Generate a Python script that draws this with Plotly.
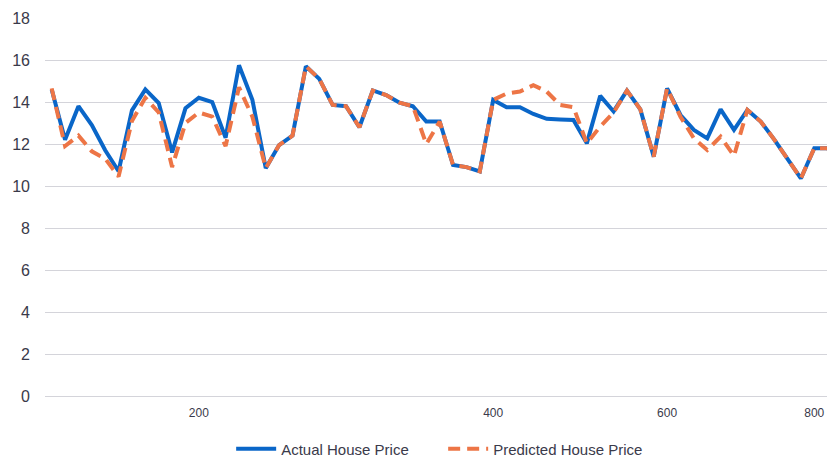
import plotly.graph_objects as go

# category index (house sample order)
categories = list(range(60))

actual_price = [14.6, 12.2, 13.8, 12.9, 11.7, 10.7, 13.6, 14.6, 13.95, 11.6,
                13.7, 14.2, 14.0, 12.3, 15.75, 14.1, 10.85, 11.95, 12.4, 15.7,
                15.1, 13.86, 13.8, 12.8, 14.55, 14.33, 13.97, 13.8, 13.07, 13.07,
                11.0, 10.9, 10.7, 14.1, 13.75, 13.75, 13.43, 13.2, 13.17, 13.14,
                12.03, 14.29, 13.55, 14.54, 13.65, 11.4, 14.65, 13.38, 12.67, 12.27,
                13.65, 12.67, 13.62, 13.07, 12.22, 11.3, 10.36, 11.8, 11.8, 10.9]

predicted_price = [14.65, 11.9, 12.4, 11.65, 11.3, 10.45, 13.1, 14.2, 13.5, 10.9,
                   13.0, 13.5, 13.3, 11.9, 14.7, 13.3, 10.85, 11.95, 12.4, 15.7,
                   15.1, 13.86, 13.8, 12.8, 14.55, 14.33, 13.97, 13.8, 12.0, 13.07,
                   11.0, 10.9, 10.7, 14.1, 14.4, 14.5, 14.8, 14.5, 13.86, 13.75,
                   12.03, 12.83, 13.5, 14.54, 13.65, 11.4, 14.65, 13.3, 12.27, 11.71,
                   12.35, 11.43, 13.62, 13.07, 12.22, 11.3, 10.36, 11.8, 11.8, 10.9]

tick_positions = [11, 33, 46, 57]
tick_labels = ["200", "400", "600", "800"]
y_ticks = list(range(0, 19, 2))

FONT = "Liberation Sans"
TXT = "#3a3a4a"

fig = go.Figure()
fig.add_trace(go.Scatter(
    x=categories, y=actual_price, mode="lines", name="Actual House Price",
    line=dict(color="#0a66c8", width=4),
))
fig.add_trace(go.Scatter(
    x=categories, y=predicted_price, mode="lines", name="Predicted House Price",
    line=dict(color="#ed7546", width=4, dash="12px,7px"),
))

# page body has an 8px margin, so the figure is shrunk and margins reduced
fig.update_layout(
    width=827, height=450,
    margin=dict(l=37, r=0, t=10, b=62),
    paper_bgcolor="white", plot_bgcolor="white",
    font=dict(family=FONT, color=TXT),
    showlegend=True,
    legend=dict(orientation="h", xref="paper", yref="container",
                x=0.504, xanchor="center", y=0.02, yanchor="middle",
                font=dict(size=15, color=TXT, family=FONT),
                itemwidth=40, entrywidth=157, tracegroupgap=0),
    xaxis=dict(range=[-0.5, 58.55], tickmode="array", tickvals=tick_positions,
               ticktext=tick_labels, showgrid=False, zeroline=False,
               showline=False, ticks="", ticklabelstandoff=8,
               tickfont=dict(size=12, color=TXT, family=FONT), fixedrange=True),
    yaxis=dict(range=[0, 18], tickmode="array", tickvals=y_ticks,
               showgrid=True, gridcolor="#d4d4da", gridwidth=1,
               zeroline=True, zerolinecolor="#d4d4da", zerolinewidth=1,
               showline=False, ticks="", ticklabelstandoff=14,
               tickfont=dict(size=16, color=TXT, family=FONT), fixedrange=True),
)

fig.write_html("out.html")
